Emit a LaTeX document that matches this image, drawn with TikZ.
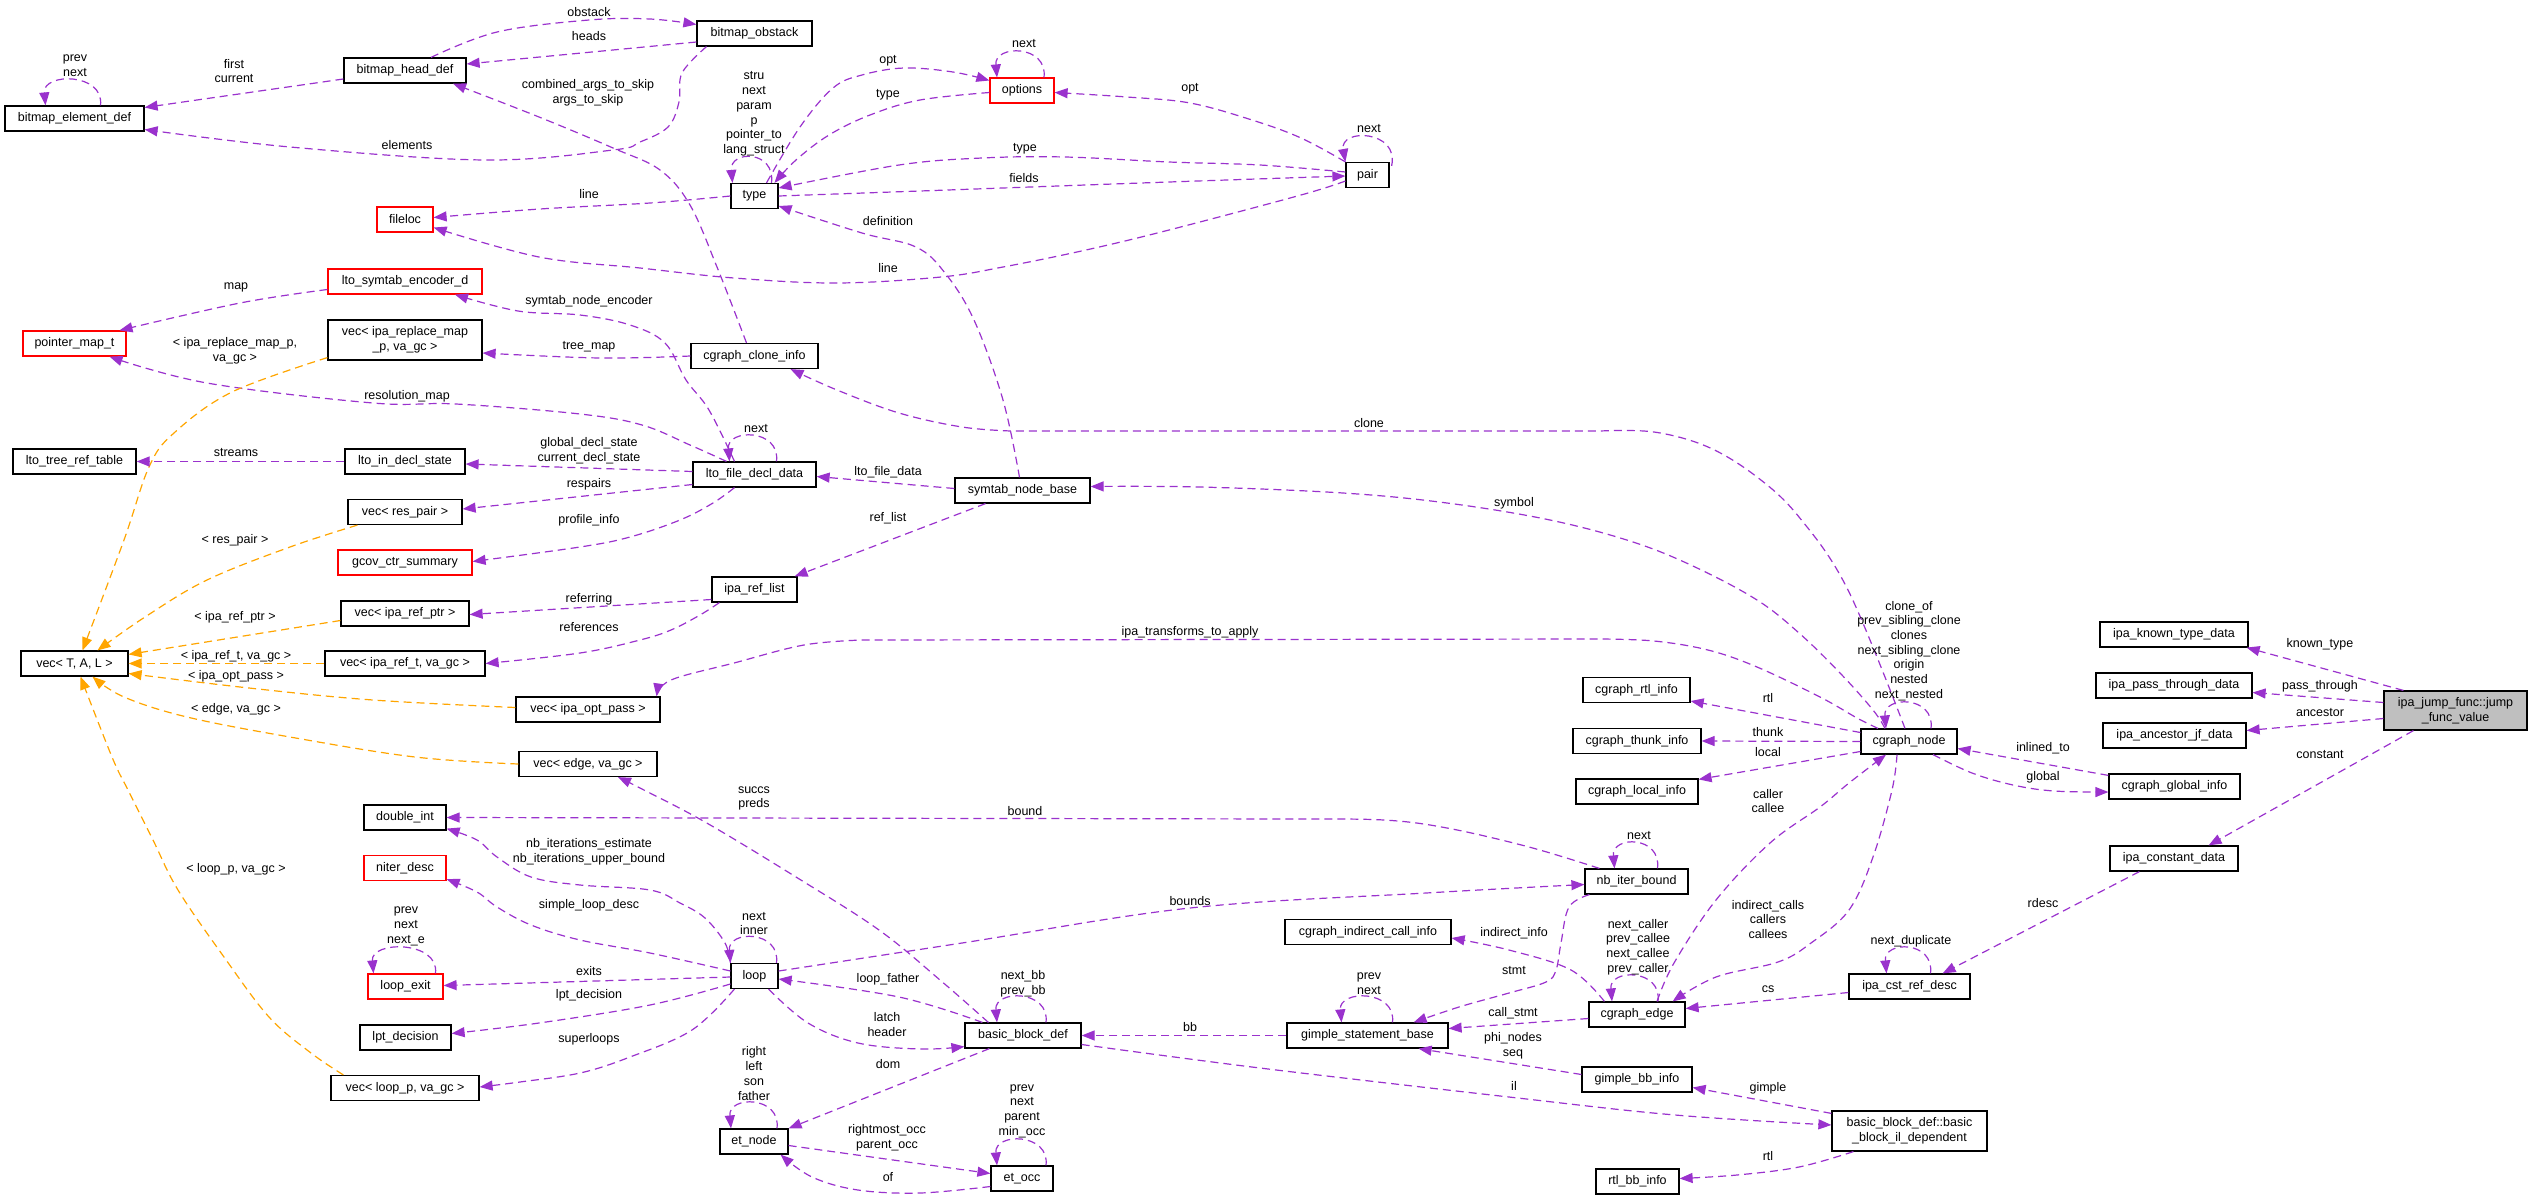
\documentclass[tikz,border=0pt]{standalone}
\usepackage{fontspec}
\setmainfont{Liberation Sans}
\usetikzlibrary{arrows.meta,calc}
\definecolor{purp}{HTML}{9A32CD}
\definecolor{orng}{HTML}{FFA500}
\definecolor{redb}{HTML}{FF0000}
\definecolor{grayf}{HTML}{BFBFBF}
\newcommand\sloop[4]{\draw[rel] ($(#1.north)+(#2,0)$) .. controls +(4,-#4) and +(-3,-#4) .. ($(#1.north)+(#3,0)$);}
\newcommand\lbl[4]{\node[lab] (#1) at (#2,#3) {#4};}
\begin{document}
\begin{tikzpicture}[x=1pt,y=-1pt,
  font=\fontsize{12.5}{14.7}\selectfont,
  box/.style={draw=black, line width=1.2pt, fill=white, minimum height=25pt, inner sep=0pt},
  redbox/.style={box, draw=redb},
  lab/.style={inner sep=0pt, align=center},
  rel/.style={draw=purp, line width=1.2pt, dash pattern=on 8pt off 5pt, -{Triangle[length=13pt,width=10pt]}},
  tmpl/.style={rel, draw=orng},
  sm/.style={smooth, tension=0.6}]
\useasboundingbox (0,0) rectangle (2533,1200);

% nodes
\node[box,minimum width=139pt] (bed) at (74.5,118.5) {bitmap\_element\_def};
\node[box,minimum width=122pt] (bhd) at (405,70.5) {bitmap\_head\_def};
\node[box,minimum width=115pt] (bob) at (754.5,33.5) {bitmap\_obstack};
\node[redbox,minimum width=64pt] (opt) at (1022,90.5) {options};
\node[box,minimum width=47pt] (type) at (754.5,196) {type};
\node[box,minimum width=43pt] (pair) at (1367.5,175) {pair};
\node[redbox,minimum width=56pt] (floc) at (405,219.5) {fileloc};
\node[redbox,minimum width=154pt] (lse) at (405,281.5) {lto\_symtab\_encoder\_d};
\node[redbox,minimum width=103pt] (pmt) at (74.5,343.5) {pointer\_map\_t};
\node[box,minimum width=154pt,minimum height=40pt,align=center] (vrm) at (405,340) {vec< ipa\_replace\_map\\\_p, va\_gc >};
\node[box,minimum width=127pt] (cci) at (754.5,356) {cgraph\_clone\_info};
\node[box,minimum width=123pt] (ltrt) at (74.5,461.5) {lto\_tree\_ref\_table};
\node[box,minimum width=120pt] (lids) at (405,461.5) {lto\_in\_decl\_state};
\node[box,minimum width=123pt] (lfdd) at (754.5,474.5) {lto\_file\_decl\_data};
\node[box,minimum width=135pt] (snb) at (1022.5,490.5) {symtab\_node\_base};
\node[box,minimum width=114pt] (vrp) at (405,512) {vec< res\_pair >};
\node[redbox,minimum width=134pt] (gcs) at (405,562.5) {gcov\_ctr\_summary};
\node[box,minimum width=85pt] (irl) at (754.5,589.5) {ipa\_ref\_list};
\node[box,minimum width=128pt] (virp) at (405,613.5) {vec< ipa\_ref\_ptr >};
\node[box,minimum width=107pt] (vtal) at (74.5,663.5) {vec< T, A, L >};
\node[box,minimum width=160pt] (virt) at (405,663.5) {vec< ipa\_ref\_t, va\_gc >};
\node[box,minimum width=144pt] (viop) at (588,709.5) {vec< ipa\_opt\_pass >};
\node[box,minimum width=138pt] (veg) at (588,764) {vec< edge, va\_gc >};
\node[box,minimum width=82pt] (dint) at (405,817.5) {double\_int};
\node[redbox,minimum width=82pt] (nd) at (405,868) {niter\_desc};
\node[redbox,minimum width=75pt] (lex) at (405.5,986.5) {loop\_exit};
\node[box,minimum width=91pt] (lptd) at (405.5,1037.5) {lpt\_decision};
\node[box,minimum width=148pt] (vlp) at (405,1088) {vec< loop\_p, va\_gc >};
\node[box,minimum width=47pt] (loop) at (754.5,976) {loop};
\node[box,minimum width=116pt] (bbd) at (1023,1035.5) {basic\_block\_def};
\node[box,minimum width=68pt] (etn) at (754,1141.5) {et\_node};
\node[box,minimum width=62pt] (eto) at (1022,1178.5) {et\_occ};
\node[box,minimum width=103pt] (nib) at (1636.5,881.5) {nb\_iter\_bound};
\node[box,minimum width=166pt] (cici) at (1368,932) {cgraph\_indirect\_call\_info};
\node[box,minimum width=161pt] (gsb) at (1367.5,1035.5) {gimple\_statement\_base};
\node[box,minimum width=96pt] (ce) at (1637,1014.5) {cgraph\_edge};
\node[box,minimum width=121pt] (icrd) at (1909.5,986.5) {ipa\_cst\_ref\_desc};
\node[box,minimum width=110pt] (gbi) at (1637,1079.5) {gimple\_bb\_info};
\node[box,minimum width=155pt,minimum height=40pt,align=center] (bbil) at (1909.5,1131) {basic\_block\_def::basic\\\_block\_il\_dependent};
\node[box,minimum width=83pt] (rbi) at (1637.5,1181.5) {rtl\_bb\_info};
\node[box,minimum width=107pt] (cri) at (1636.5,690) {cgraph\_rtl\_info};
\node[box,minimum width=128pt] (cti) at (1637,741) {cgraph\_thunk\_info};
\node[box,minimum width=122pt] (cli) at (1637,791.5) {cgraph\_local\_info};
\node[box,minimum width=96pt] (cn) at (1909,741.5) {cgraph\_node};
\node[box,minimum width=148pt] (iktd) at (2174,634.5) {ipa\_known\_type\_data};
\node[box,minimum width=156pt] (iptd) at (2174,685.5) {ipa\_pass\_through\_data};
\node[box,minimum width=143pt] (iajd) at (2174.5,735.5) {ipa\_ancestor\_jf\_data};
\node[box,minimum width=131pt] (cgi) at (2174.5,786.5) {cgraph\_global\_info};
\node[box,minimum width=128pt] (icd) at (2174,858.5) {ipa\_constant\_data};
\node[box,fill=grayf,minimum width=143pt,minimum height=39pt,align=center] (jfv) at (2455.5,710.5) {ipa\_jump\_func::jump\\\_func\_value};

% self loops
\sloop{bed}{26}{-29}{33}
\sloop{opt}{22}{-25}{33}
\sloop{type}{17}{-22}{33}
\sloop{lfdd}{22}{-25}{33}
\sloop{loop}{22}{-24}{33}
\sloop{lex}{30}{-32}{33}
\sloop{bbd}{23}{-26}{33}
\sloop{etn}{23}{-23}{33}
\sloop{eto}{24}{-25}{33}
\sloop{nib}{21}{-22}{33}
\sloop{gsb}{25}{-26}{33}
\sloop{ce}{21}{-25}{33}
\sloop{icrd}{21}{-23}{33}
\sloop{cn}{22}{-23}{33}
\draw[rel] ($(pair.north east)+(2,4)$) .. controls +(8,-36) and +(-6,-34) .. (pair.north west);

% edges
\draw[rel] ($(bhd.west)+(0,8.5)$) -- ($(bed.east)+(0,-11)$);
\draw[rel] ($(bob.west)+(0,8.5)$) -- ($(bhd.east)+(0,-6.5)$);
\draw[rel] plot[sm] coordinates {($(bhd.north)+(26,0)$) (497,32) (589,20) (650,19) ($(bob.west)+(0,-9)$)};
\draw[rel] plot[sm] coordinates {($(bob.south)+(-48,0)$) (682,73) (679,102) (668,127) (640,142) (613,150) (485,160) (290,147) ($(bed.east)+(0,11)$)};
\draw[rel] plot[sm] coordinates {($(cci.north)+(-8,0)$) (717,267) (690,205) (660,170) (613,148) (539,117) ($(bhd.south)+(48,0)$)};
\draw[rel] plot[sm] coordinates {($(type.north)+(12,0)$) (800,127) (833,88) (862,75) (904,68) (953,72) ($(opt.west)+(0,-10)$)};
\draw[rel] plot[sm] coordinates {($(opt.west)+(0,2)$) (920,100) (870,115) (829,135) (796,160) ($(type.north)+(20,0)$)};
\draw[rel] plot[sm] coordinates {(pair.north west) (1301,138) (1252,120) (1190,103) (1127,97) ($(opt.east)+(0,2)$)};
\draw[rel] plot[sm] coordinates {($(pair.west)+(0,-3)$) (1260,165) (1169,162) (1065,157) (982,158) (899,165) ($(type.east)+(0,-8)$)};
\draw[rel] plot[sm] coordinates {(type.east) (920,191) (1169,182) ($(pair.west)+(0,1)$)};
\draw[rel] plot[sm] coordinates {($(pair.west)+(0,6)$) (1301,195) (1169,230) (1086,250) (1003,267) (941,277) (837,283) (734,278) (640,268) (539,257) ($(floc.east)+(0,8)$)};
\draw[rel] plot[sm] coordinates {(type.west) (650,203) (540,209) ($(floc.east)+(0,-2)$)};
\draw[rel] plot[sm] coordinates {($(snb.north)+(-3,0)$) (1003,400) (974,320) (945,273) (916,247) (862,233) ($(type.east)+(0,10)$)};
\draw[rel] plot[sm] coordinates {($(lfdd.north)+(-20,0)$) (709,410) (686,380) (665,343) (630,325) (580,315) (518,311) ($(lse.south)+(50,0)$)};
\draw[rel] plot[sm] coordinates {($(lfdd.north)+(-28,0)$) (690,445) (642,425) (580,414) (456,404) (373,403) (207,383) ($(pmt.south)+(35,0)$)};
\draw[rel] plot[sm] coordinates {($(lse.west)+(0,8)$) (240,303) ($(pmt.north)+(45,0)$)};
\draw[rel] plot[sm] coordinates {(cci.west) (600,358) ($(vrm.east)+(0,13)$)};
\draw[tmpl] plot[sm] coordinates {($(vrm.south west)+(0,-3)$) (232,392) (174,433) (149,467) (124,540) ($(vtal.north)+(8,0)$)};
\draw[rel] plot[sm] coordinates {($(cn.north)+(-4,0)$) (1848,590) (1799,517) (1757,477) (1708,447) (1654,432) (1600,431)} -- plot[sm] coordinates {(1011,431) (962,427) (899,413) (837,390) ($(cci.south)+(36,0)$)};
\draw[rel] ($(lfdd.west)+(0,-3)$) -- ($(lids.east)+(0,2.5)$);
\draw[rel] (lids.west) -- (ltrt.east);
\draw[rel] ($(lfdd.west)+(0,10)$) -- ($(vrp.east)+(0,-3)$);
\draw[rel] plot[sm] coordinates {($(lfdd.south)+(-20,0)$) (713,503) (680,520) (630,537) (580,547) ($(gcs.east)+(0,-1)$)};
\draw[rel] ($(snb.west)+(0,-2)$) -- ($(lfdd.east)+(0,2)$);
\draw[rel] ($(snb.south)+(-37,0)$) -- ($(irl.north east)+(-3,0)$);
\draw[rel] plot[sm] coordinates {($(cn.north)+(-24,0)$) (1873,710) (1840,673) (1799,633) (1757,600) (1695,567) (1633,542) (1550,520) (1447,503) (1343,493) (1200,487) ($(snb.east)+(0,-4)$)};
\draw[rel] ($(irl.west)+(0,10)$) -- ($(virp.east)+(0,1)$);
\draw[rel] plot[sm] coordinates {($(irl.south west)+(8,0)$) (700,615) (671,630) (640,640) (580,653) (virt.east)};
\draw[tmpl] plot[sm] coordinates {($(vrp.south west)+(10,0)$) (290,547) (207,580) (145,617) ($(vtal.north)+(23,0)$)};
\draw[tmpl] ($(virp.west)+(0,7)$) -- ($(vtal.north east)+(0,4)$);
\draw[tmpl] (virt.west) -- (vtal.east);
\draw[tmpl] plot[sm] coordinates {($(viop.west)+(0,-2)$) (373,700) (249,688) ($(vtal.east)+(0,10)$)};
\draw[tmpl] plot[sm] coordinates {(veg.west) (415,757) (290,737) (187,717) (124,697) ($(vtal.south)+(18,0)$)};
\draw[tmpl] plot[sm] coordinates {($(vlp.north west)+(13,0)$) (311,1053) (269,1017) (224,957) (178,890) (153,840) (128,790) (112,757) ($(vtal.south)+(6,0)$)};
\draw[rel] plot[sm] coordinates {($(cn.north)+(-31,0)$) (1857,718) (1820,697) (1757,667) (1708,650) (1654,641) (1600,639)} -- plot[sm] coordinates {(862,640) (804,645) (734,663) (671,680) ($(viop.north east)+(-4,0)$)};
\draw[rel] plot[sm] coordinates {($(bbd.north west)+(24,0)$) (940,980) (879,930) (796,877) (705,822) (640,788) ($(veg.south)+(30,0)$)};
\draw[rel] plot[sm] coordinates {($(nib.north west)+(15,0)$) (1529,847) (1447,828) (1384,820) (1300,819)} -- (dint.east);
\draw[rel] plot[sm] coordinates {(loop.north west) (725,943) (705,918) (680,903) (650,890) (580,885) (531,877) (497,857) (477,840) ($(dint.south east)+(0,-2)$)};
\draw[rel] plot[sm] coordinates {($(loop.west)+(0,-5)$) (650,953) (580,940) (531,925) (497,907) (477,892) ($(nd.south east)+(0,-2)$)};
\draw[rel] ($(loop.west)+(0,1)$) -- ($(lex.east)+(0,-1)$);
\draw[rel] plot[sm] coordinates {($(loop.west)+(0,8)$) (650,1005) (539,1023) ($(lptd.east)+(0,-4)$)};
\draw[rel] plot[sm] coordinates {($(loop.south west)+(4,0)$) (692,1030) (630,1057) (580,1073) (520,1082) ($(vlp.east)+(0,-1)$)};
\draw[rel] plot[sm] coordinates {($(loop.east)+(0,-5)$) (962,943) (1190,908) (1426,893) ($(nib.west)+(0,3)$)};
\draw[rel] plot[sm] coordinates {($(bbd.north west)+(18,0)$) (899,997) ($(loop.east)+(0,3)$)};
\draw[rel] plot[sm] coordinates {($(loop.south east)+(-10,0)$) (808,1023) (858,1043) (920,1049) ($(bbd.south west)+(0,-2)$)};
\draw[rel] (gsb.west) -- (bbd.east);
\draw[rel] ($(bbd.south west)+(25,0)$) -- (etn.north east);
\draw[rel] plot[sm] coordinates {($(bbd.east)+(0,9)$) (1260,1068) (1509,1097) (1675,1115) ($(bbil.west)+(0,-6)$)};
\draw[rel] ($(etn.east)+(0,4)$) -- ($(eto.west)+(0,-5)$);
\draw[rel] plot[sm] coordinates {($(eto.west)+(0,8)$) (920,1193) (858,1190) (812,1177) ($(etn.south east)+(-8,0)$)};
\draw[rel] plot[sm] coordinates {($(nib.south west)+(5,0)$) (1569,907) (1561,943) (1556,970) (1546,982) (1509,993) (1459,1007) ($(gsb.north east)+(-35,0)$)};
\draw[rel] plot[sm] coordinates {($(ce.north west)+(16,0)$) (1571,970) (1509,950) ($(cici.east)+(0,6)$)};
\draw[rel] ($(ce.west)+(0,4)$) -- ($(gsb.east)+(0,-7)$);
\draw[rel] plot[sm] coordinates {($(ce.north)+(20,0)$) (1674,963) (1716,900) (1770,843) (1820,807) (1849,783) ($(cn.south)+(-23,0)$)};
\draw[rel] plot[sm] coordinates {($(cn.south)+(-12,0)$) (1892,790) (1873,857) (1849,910) (1811,943) (1778,962) (1716,977) ($(ce.north east)+(-13,0)$)};
\draw[rel] ($(gbi.west)+(0,-5)$) -- ($(gsb.south east)+(-30,0)$);
\draw[rel] ($(bbil.north west)+(0,3)$) -- ($(gbi.east)+(0,8)$);
\draw[rel] plot[sm] coordinates {($(bbil.south west)+(22,0)$) (1799,1167) (1737,1175) ($(rbi.east)+(0,-3)$)};
\draw[rel] ($(icrd.west)+(0,6)$) -- ($(ce.east)+(0,-6)$);
\draw[rel] ($(icd.south west)+(30,0)$) -- ($(icrd.north east)+(-28,0)$);
\draw[rel] ($(jfv.south west)+(30,0)$) -- ($(icd.north east)+(-30,0)$);
\draw[rel] ($(jfv.north west)+(20,0)$) -- ($(iktd.south east)+(-2,0)$);
\draw[rel] ($(jfv.west)+(0,-8)$) -- ($(iptd.east)+(0,7)$);
\draw[rel] ($(jfv.west)+(0,8)$) -- ($(iajd.east)+(0,-5)$);
\draw[rel] ($(cgi.north west)+(0,2)$) -- ($(cn.east)+(0,7)$);
\draw[rel] plot[sm] coordinates {($(cn.south)+(24,0)$) (1972,773) (2013,785) (2054,791) ($(cgi.west)+(0,5.5)$)};
\draw[rel] ($(cn.west)+(0,-9)$) -- ($(cri.east)+(0,11)$);
\draw[rel] (cn.west) -- (cti.east);
\draw[rel] ($(cn.west)+(0,10)$) -- ($(cli.north east)+(0,1)$);

% labels
\lbl{l1}{75}{65.5}{prev\\next}
\lbl{l2}{234}{71}{first\\current}
\lbl{l3}{589}{12}{obstack}
\lbl{l4}{589}{36}{heads}
\lbl{l5}{588}{92.5}{combined\_args\_to\_skip\\args\_to\_skip}
\lbl{l6}{407}{145}{elements}
\lbl{l7}{589}{194}{line}
\lbl{l8}{236}{287}{map}
\lbl{l9}{589}{301}{symtab\_node\_encoder}
\lbl{l10}{235}{351}{< ipa\_replace\_map\_p,\\va\_gc >}
\lbl{l11}{589}{347}{tree\_map}
\lbl{l12}{407}{396}{resolution\_map}
\lbl{l13}{1024}{44}{next}
\lbl{l14}{888}{61}{opt}
\lbl{l15}{754}{114}{stru\\next\\param\\p\\pointer\_to\\lang\_struct}
\lbl{l16}{888}{95}{type}
\lbl{l17}{1190}{89}{opt}
\lbl{l18}{1025}{149}{type}
\lbl{l19}{1024}{178}{fields}
\lbl{l20}{888}{221}{definition}
\lbl{l21}{888}{268}{line}
\lbl{l22}{1369}{129}{next}
\lbl{l23}{236}{453}{streams}
\lbl{l24}{589}{451}{global\_decl\_state\\current\_decl\_state}
\lbl{l25}{589}{484}{respairs}
\lbl{l26}{589}{520}{profile\_info}
\lbl{l27}{235}{540}{< res\_pair >}
\lbl{l28}{589}{599}{referring}
\lbl{l29}{235}{617}{< ipa\_ref\_ptr >}
\lbl{l30}{589}{627}{references}
\lbl{l31}{236}{656}{< ipa\_ref\_t, va\_gc >}
\lbl{l32}{236}{676}{< ipa\_opt\_pass >}
\lbl{l33}{236}{709}{< edge, va\_gc >}
\lbl{l34}{756}{429}{next}
\lbl{l35}{888}{472}{lto\_file\_data}
\lbl{l36}{888}{518}{ref\_list}
\lbl{l37}{1190}{632}{ipa\_transforms\_to\_apply}
\lbl{l38}{754}{798.5}{succs\\preds}
\lbl{l39}{1025}{811}{bound}
\lbl{l40}{1369}{423}{clone}
\lbl{l41}{1514}{503}{symbol}
\lbl{l42}{1768}{698}{rtl}
\lbl{l43}{1768}{732}{thunk}
\lbl{l44}{1768}{752}{local}
\lbl{l45}{1768}{801}{caller\\callee}
\lbl{l46}{1909}{651}{clone\_of\\prev\_sibling\_clone\\clones\\next\_sibling\_clone\\origin\\nested\\next\_nested}
\lbl{l47}{2320}{644}{known\_type}
\lbl{l48}{2320}{686}{pass\_through}
\lbl{l49}{2320}{713}{ancestor}
\lbl{l50}{2320}{755}{constant}
\lbl{l51}{2043}{748}{inlined\_to}
\lbl{l52}{2043}{777}{global}
\lbl{l53}{236}{869}{< loop\_p, va\_gc >}
\lbl{l54}{589}{852}{nb\_iterations\_estimate\\nb\_iterations\_upper\_bound}
\lbl{l55}{589}{905}{simple\_loop\_desc}
\lbl{l56}{406}{926.5}{prev\\next\\next\_e}
\lbl{l57}{589}{971}{exits}
\lbl{l58}{589}{995}{lpt\_decision}
\lbl{l59}{589}{1039}{superloops}
\lbl{l60}{754}{923.5}{next\\inner}
\lbl{l61}{1190}{901}{bounds}
\lbl{l62}{888}{979}{loop\_father}
\lbl{l63}{1023}{983.5}{next\_bb\\prev\_bb}
\lbl{l64}{887}{1024.5}{latch\\header}
\lbl{l65}{1190}{1027}{bb}
\lbl{l66}{888}{1064}{dom}
\lbl{l67}{754}{1073.5}{right\\left\\son\\father}
\lbl{l68}{1022}{1111}{prev\\next\\parent\\min\_occ}
\lbl{l69}{887}{1138}{rightmost\_occ\\parent\_occ}
\lbl{l70}{888}{1177}{of}
\lbl{l71}{1639}{836}{next}
\lbl{l72}{1514}{933}{indirect\_info}
\lbl{l73}{1768}{919.5}{indirect\_calls\\callers\\callees}
\lbl{l74}{1638}{947}{next\_caller\\prev\_callee\\next\_callee\\prev\_caller}
\lbl{l75}{1514}{971}{stmt}
\lbl{l76}{1369}{983.5}{prev\\next}
\lbl{l77}{1513}{1013}{call\_stmt}
\lbl{l78}{1768}{989}{cs}
\lbl{l79}{1911}{941}{next\_duplicate}
\lbl{l80}{1513}{1046}{phi\_nodes\\seq}
\lbl{l81}{1514}{1086}{il}
\lbl{l82}{1768}{1088}{gimple}
\lbl{l83}{1768}{1156}{rtl}
\lbl{l84}{2043}{903}{rdesc}
\end{tikzpicture}
\end{document}
